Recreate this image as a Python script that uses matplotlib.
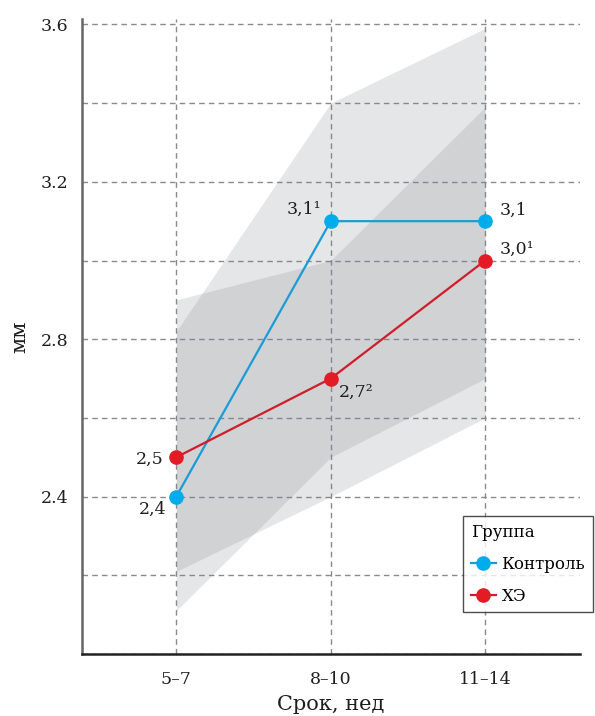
import numpy as np
import matplotlib.pyplot as plt
from matplotlib.ticker import MultipleLocator

periods = ["5–7", "8–10", "11–14"]

control = [2.4, 3.1, 3.1]
control_lo = [2.11, 2.5, 2.7]
control_hi = [2.82, 3.4, 3.59]
control_labels = ["2,4", "3,1¹", "3,1"]

he = [2.5, 2.7, 3.0]
he_lo = [2.21, 2.4, 2.6]
he_hi = [2.9, 3.0, 3.39]
he_labels = ["2,5", "2,7²", "3,0¹"]

plt.rcParams['font.family'] = ['DejaVu Serif']

fig = plt.figure(figsize=(5.95, 7.16), dpi=100)
ax = fig.add_axes([0.138, 0.0866, 0.837, 0.887])

x = np.arange(len(periods))

# interval bands, overlapping parts come out darker
ax.fill_between(x, control_lo, control_hi, color='#80838a', alpha=0.2, lw=0, zorder=1)
ax.fill_between(x, he_lo, he_hi, color='#80838a', alpha=0.2, lw=0, zorder=1)

ax.plot(x, control, color='#1b9cd6', lw=1.6, marker='o', ms=9.5,
        mfc='#00acec', mec='#00acec', label='Контроль', zorder=4)
ax.plot(x, he, color='#cf1d2a', lw=1.6, marker='o', ms=9.5,
        mfc='#e31b25', mec='#e31b25', label='ХЭ', zorder=4)

# value labels, offsets in pixels
control_off = [(-10, -13, 'right'), (-9, 12, 'right'), (14, 11, 'left')]
he_off = [(-13, -2, 'right'), (8, -14, 'left'), (14, 11, 'left')]
for vals, labels, offs in [(control, control_labels, control_off),
                           (he, he_labels, he_off)]:
    for xi, v, lab, (dx, dy, ha) in zip(x, vals, labels, offs):
        ax.annotate(lab, (xi, v), xytext=(dx, dy), textcoords='offset pixels',
                    ha=ha, va='center', fontsize=12.5, color='#1e1e1e', zorder=5)

ax.set_xlim(-0.61, 2.615)
ax.set_ylim(2.0, 3.614)
ax.set_xticks(x)
ax.set_xticklabels(periods)
ax.yaxis.set_minor_locator(MultipleLocator(0.2))
ax.set_yticks([2.4, 2.8, 3.2, 3.6])
ax.tick_params(axis='both', which='both', length=0, labelsize=12.5,
               colors='#1e1e1e')
ax.tick_params(axis='x', pad=12)
ax.tick_params(axis='y', pad=10)

ax.grid(True, which='both', axis='y', ls=(0, (4, 3)), color='#8a8a8a', lw=1)
ax.grid(True, which='major', axis='x', ls=(0, (4, 3)), color='#8a8a8a', lw=1)
ax.set_axisbelow(True)

for s in ['top', 'right']:
    ax.spines[s].set_visible(False)
ax.spines['left'].set_color('#666666')
ax.spines['left'].set_linewidth(1.8)
ax.spines['bottom'].set_color('#222222')
ax.spines['bottom'].set_linewidth(1.8)

ax.set_xlabel("Срок, нед", fontsize=15, color='#1e1e1e', labelpad=5)
ax.set_ylabel("мм", fontsize=15, color='#1e1e1e', labelpad=8)

leg = ax.legend(title='Группа', loc='upper left', bbox_to_anchor=(0.765, 0.217),
                fontsize=12, title_fontsize=12, alignment='left',
                frameon=True, fancybox=False, edgecolor='#222222',
                handlelength=1.5, handletextpad=0.35, borderpad=0.45,
                labelspacing=0.9, borderaxespad=0)
leg.get_frame().set_linewidth(1)
leg.set_zorder(6)

fig.savefig("out.png", dpi=100)
